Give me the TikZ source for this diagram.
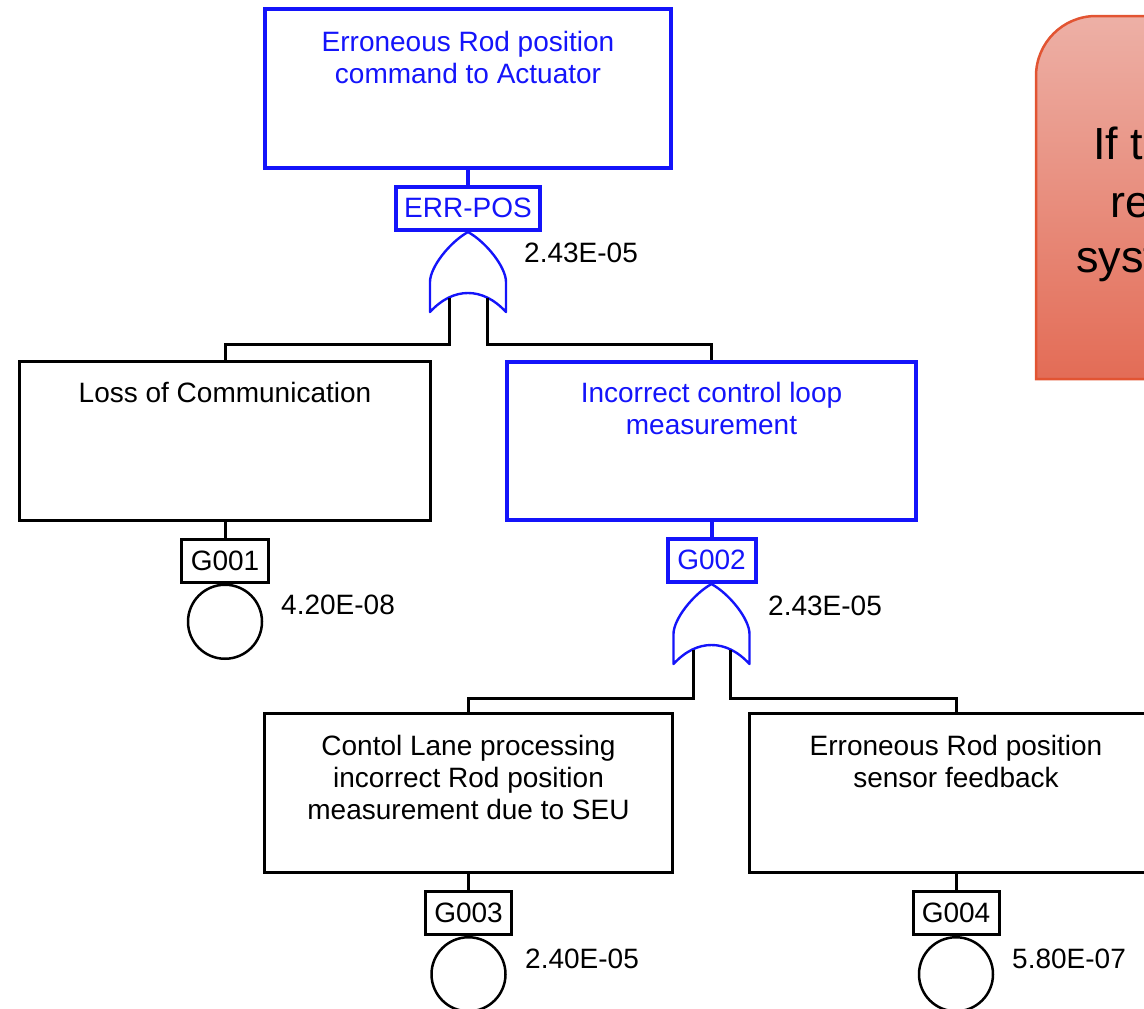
\documentclass[tikz,border=0pt]{standalone}
\usepackage{fontspec}
\setmainfont{Liberation Sans}
\definecolor{evblue}{RGB}{20,20,250}
\definecolor{notetop}{RGB}{237,176,166}
\definecolor{notebot}{RGB}{227,108,86}
\definecolor{noteedge}{RGB}{226,84,50}
\begin{document}
\begin{tikzpicture}[x=1pt,y=1pt,
  txt/.style={font=\fontsize{28}{32}\selectfont, inner sep=0pt, align=center},
  eventbox/.style={draw=black, line width=3pt, inner sep=0pt, minimum height=159pt},
  blueevent/.style={eventbox, draw=evblue, line width=4pt},
  idbox/.style={draw=black, line width=3pt, inner sep=0pt, minimum height=43pt,
    font=\fontsize{28}{32}\selectfont},
  blueid/.style={idbox, draw=evblue, line width=4pt, text=evblue},
  basic/.style={circle, draw=black, line width=2.5pt, minimum size=74pt, inner sep=0pt, anchor=north},
  prob/.style={font=\fontsize{28}{32}\selectfont, inner sep=0pt, anchor=base west},
  conn/.style={draw=black, line width=3pt},
  bconn/.style={draw=evblue, line width=4pt},
  orgate/.pic={
    \draw[evblue, line width=2.4pt, line join=round]
      (-38,-80) -- (-38,-50) .. controls (-38,-35) and (-18,-10) .. (0,0)
      .. controls (18,-10) and (38,-35) .. (38,-50) -- (38,-80)
      .. controls (26,-67) and (13,-61) .. (0,-61)
      .. controls (-13,-61) and (-26,-67) .. (-38,-80) -- cycle;
  }]
\useasboundingbox (0,0) rectangle (1144,-1009);
\clip (0,0) rectangle (1144,-1009);

% note box on the right
\path[top color=notetop, bottom color=notebot, draw=noteedge, line width=2.5pt]
  (1036,-379) [rounded corners=60pt] -- (1036,-16) [sharp corners] -- (1220,-16)
  -- (1220,-379) -- cycle;
\begin{scope}[every node/.style={font=\fontsize{45}{54}\selectfont, inner sep=0pt, anchor=base west}]
  \node (n1) at (1093,-159) {If t};
  \node (n2) at (1110,-217) {re};
  \node (n3) at (1076,-272) {syst};
\end{scope}

% top event
\node[blueevent, minimum width=406pt] (top) at (468,-88.5) {};
\node[txt, text=evblue, anchor=north] (topT) at ([yshift=-24pt]top.north)
  {Erroneous Rod position\\command to Actuator};
\node[blueid, minimum width=144pt] (errpos) at (468,-208) {ERR-POS};
\draw[bconn] (top.south) -- (errpos.north);
\pic at (468,-232) {orgate};
\node[prob] (p0) at (524,-262) {2.43E-05};

% second level
\node[eventbox, minimum width=411pt] (loss) at (225,-441) {};
\node[txt, anchor=north] (lossT) at ([yshift=-22.5pt]loss.north) {Loss of Communication};
\node[blueevent, minimum width=409pt, minimum height=158pt] (meas) at (711.5,-441) {};
\node[txt, text=evblue, anchor=north] (measT) at ([yshift=-22.5pt]meas.north)
  {Incorrect control loop\\measurement};

\coordinate (g1l) at (449,-297.5);
\coordinate (g1r) at (487,-297.5);
\draw[conn] (g1l) -- ++(0,-46.5) -| (loss.north);
\draw[conn] (g1r) -- ++(0,-46.5) -| (meas.north);

% G001 basic event
\node[idbox, minimum width=87pt] (g001) at (225,-560.5) {G001};
\draw[conn] (loss.south) -- (g001.north);
\node[basic] (e1) at (g001.south) {};
\node[prob] (p1) at (281,-614) {4.20E-08};

% G002 gate
\node[blueid, minimum width=88pt] (g002) at (711.5,-560) {G002};
\draw[bconn] (meas.south) -- (g002.north);
\pic at (711.5,-584) {orgate};
\node[prob] (p2) at (768,-615) {2.43E-05};

% third level
\node[eventbox, minimum width=408pt] (seu) at (468.5,-793) {};
\node[txt, anchor=north] (seuT) at ([yshift=-23.5pt]seu.north)
  {Contol Lane processing\\incorrect Rod position\\measurement due to SEU};
\node[eventbox, minimum width=414pt] (sens) at (956,-793) {};
\node[txt, anchor=north] (sensT) at ([yshift=-23.5pt]sens.north)
  {Erroneous Rod position\\sensor feedback};

\coordinate (g2l) at (693,-649.5);
\coordinate (g2r) at (730,-649.5);
\draw[conn] (g2l) -- ++(0,-48.5) -| (seu.north);
\draw[conn] (g2r) -- ++(0,-48.5) -| (sens.north);

% G003 / G004 basic events
\node[idbox, minimum width=86pt] (g003) at (468.5,-913) {G003};
\draw[conn] (seu.south) -- (g003.north);
\node[basic] (e3) at (g003.south) {};
\node[prob] (p3) at (525,-968) {2.40E-05};

\node[idbox, minimum width=86pt] (g004) at (956,-913) {G004};
\draw[conn] (sens.south) -- (g004.north);
\node[basic] (e4) at (g004.south) {};
\node[prob] (p4) at (1012,-968) {5.80E-07};
\end{tikzpicture}
\end{document}
